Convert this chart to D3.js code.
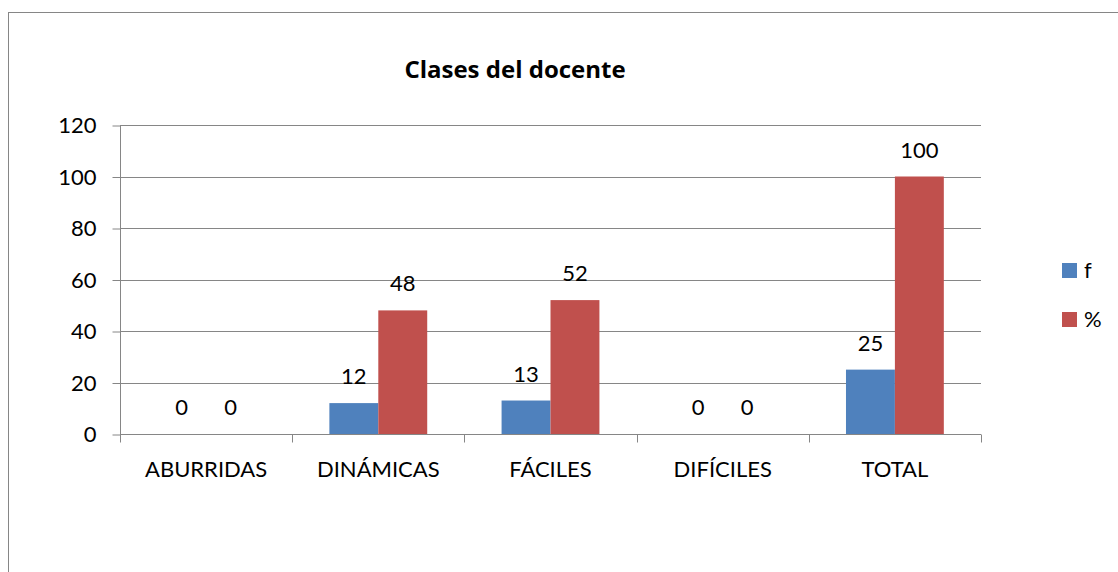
<!DOCTYPE html>
<html>
<head>
<meta charset="utf-8">
<script src="https://cdn.jsdelivr.net/npm/d3@7"></script>
<style>
  body { margin: 0; background: #fff; }
  text { font-family: Lato, "Open Sans", sans-serif; fill: #000; }
</style>
</head>
<body>
<div id="chart"></div>
<script>
var categories = ['ABURRIDAS', 'DINÁMICAS', 'FÁCILES', 'DIFÍCILES', 'TOTAL'];
var seriesNames = ['f', '%'];
var fValues = [0, 12, 13, 0, 25];
var pctValues = [0, 48, 52, 0, 100];
var yTicks = [0, 20, 40, 60, 80, 100, 120];
var colors = ['#4F81BD', '#C0504D'];

var width = 1118, height = 572,
    plotLeft = 120, plotRight = 981, plotTop = 125, plotBottom = 434;

var svg = d3.select('#chart').append('svg')
    .attr('width', width)
    .attr('height', height);

// outer chart border (runs off the right and bottom of the picture)
svg.append('rect')
    .attr('x', 8.5).attr('y', 12.5)
    .attr('width', 1300).attr('height', 800)
    .attr('fill', 'none')
    .attr('stroke', '#868686')
    .attr('stroke-width', 1);

svg.append('text')
    .text('Clases del docente')
    .attr('x', 515).attr('y', 78)
    .attr('text-anchor', 'middle')
    .style('font-weight', 'bold')
    .style('font-family', '"Open Sans", sans-serif')
    .style('font-size', '24px');

var x = d3.scaleBand().domain(categories).range([plotLeft, plotRight]);
var x1 = d3.scaleBand().domain(seriesNames)
    .range([0, x.bandwidth()])
    .paddingOuter(0.76).paddingInner(0);
var y = d3.scaleLinear().domain([0, 120]).range([plotBottom, plotTop]);

// gridlines
svg.append('g').selectAll('line')
    .data(yTicks.slice(1))
    .enter().append('line')
    .attr('x1', plotLeft).attr('x2', plotRight)
    .attr('y1', function(d){ return Math.round(y(d)) + 0.5; })
    .attr('y2', function(d){ return Math.round(y(d)) + 0.5; })
    .attr('stroke', '#868686');

// y axis
var yAxis = svg.append('g')
    .attr('transform', 'translate(' + (plotLeft + 0.5) + ',0.5)')
    .call(d3.axisLeft(y).tickValues(yTicks).tickSize(8).tickPadding(16));
yAxis.selectAll('line, path').attr('stroke', '#868686');
yAxis.select('path').attr('d', 'M0,' + Math.round(plotTop) + 'V' + Math.round(plotBottom));
yAxis.selectAll('text').attr('font-size', 22);

// x axis
var xAxis = svg.append('g')
    .attr('transform', 'translate(0,' + (plotBottom + 0.5) + ')');
xAxis.append('line')
    .attr('x1', plotLeft).attr('x2', plotRight)
    .attr('stroke', '#868686');
xAxis.selectAll('.tk')
    .data(categories.concat(['end']))
    .enter().append('line')
    .attr('class', 'tk')
    .attr('x1', function(d, i){ return Math.round(plotLeft + i * x.bandwidth()) + 0.5; })
    .attr('x2', function(d, i){ return Math.round(plotLeft + i * x.bandwidth()) + 0.5; })
    .attr('y1', 0).attr('y2', 8)
    .attr('stroke', '#868686');
xAxis.selectAll('text')
    .data(categories)
    .enter().append('text')
    .text(function(d){ return d; })
    .attr('x', function(d){ return x(d) + x.bandwidth() / 2; })
    .attr('y', 42)
    .attr('text-anchor', 'middle')
    .attr('font-size', 22);

var rows = categories.map(function(c, i){
    return { cat: c, vals: [fValues[i], pctValues[i]] };
});

var groups = svg.selectAll('.grp')
    .data(rows)
    .enter().append('g')
    .attr('class', 'grp')
    .attr('transform', function(d){ return 'translate(' + x(d.cat) + ',0)'; });

groups.selectAll('rect')
    .data(function(d){ return d.vals.map(function(v, j){ return { s: seriesNames[j], v: v, j: j }; }); })
    .enter().append('rect')
    .attr('x', function(d){ return x1(d.s); })
    .attr('width', x1.bandwidth())
    .attr('y', function(d){ return y(d.v); })
    .attr('height', function(d){ return plotBottom - y(d.v); })
    .attr('fill', function(d){ return colors[d.j]; });

groups.selectAll('text')
    .data(function(d){ return d.vals.map(function(v, j){ return { s: seriesNames[j], v: v }; }); })
    .enter().append('text')
    .text(function(d){ return d.v; })
    .attr('x', function(d){ return x1(d.s) + x1.bandwidth() / 2; })
    .attr('y', function(d){ return y(d.v) - 19; })
    .attr('text-anchor', 'middle')
    .attr('font-size', 22);

// legend
var legend = svg.selectAll('.leg')
    .data(seriesNames)
    .enter().append('g')
    .attr('class', 'leg')
    .attr('transform', function(d, i){ return 'translate(1062,' + (263 + i * 49) + ')'; });
legend.append('rect')
    .attr('width', 15).attr('height', 15)
    .attr('fill', function(d, i){ return colors[i]; });
legend.append('text')
    .text(function(d){ return d; })
    .attr('x', 22).attr('y', 15)
    .attr('font-size', 22);
</script>
</body>
</html>
